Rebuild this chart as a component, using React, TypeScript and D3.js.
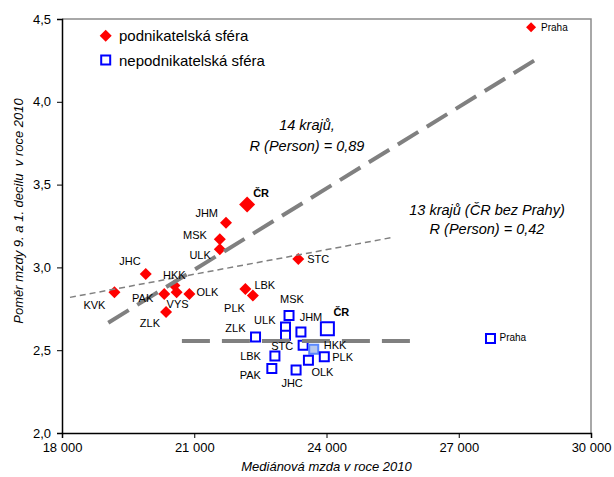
import { useEffect, useRef } from "react";
import * as d3 from "d3";

// podnikatelská sféra (red diamonds)
const podnikRegions = ["Praha", "ČR", "JHM", "MSK", "ULK", "JHC", "KVK", "HKK", "PAK", "VYS", "OLK", "ZLK", "LBK", "PLK", "STC"];
const podnikWage = [28640, 22200, 21720, 21580, 21580, 19900, 19190, 20550, 20320, 20600, 20890, 20360, 22160, 22330, 23360];
const podnikRatio = [4.45, 3.38, 3.27, 3.17, 3.11, 2.96, 2.85, 2.89, 2.84, 2.85, 2.84, 2.73, 2.87, 2.83, 3.05];

// nepodnikatelská sféra (blue squares)
const nepodnikRegions = ["Praha", "ČR", "ZLK", "MSK", "ULK", "KVK", "JHM", "STC", "HKK", "PLK", "OLK", "JHC", "LBK", "PAK"];
const nepodnikWage = [27720, 24020, 22390, 23150, 23070, 23070, 23420, 23470, 23710, 23950, 23590, 23310, 22830, 22760];
const nepodnikRatio = [2.57, 2.63, 2.58, 2.71, 2.64, 2.59, 2.61, 2.53, 2.505, 2.46, 2.44, 2.38, 2.465, 2.39];

// trend lines [x1, y1, x2, y2]
const trend14 = [19050, 2.666, 28840, 4.27];
const trend13 = [18180, 2.819, 25515, 3.182];
const trendNepodnik = [20720, 2.555, 26140, 2.555];

const xTicks = [18000, 21000, 24000, 27000, 30000];
const yTicks = [2.0, 2.5, 3.0, 3.5, 4.0, 4.5];

// label placement: [dx, dy, anchor]
const podnikLabelPos: Record<string, [number, number, string]> = {
  Praha: [10, 4, "start"],
  "ČR": [6, -7, "start"],
  JHM: [-8, -5.5, "end"],
  MSK: [-13, 0, "end"],
  ULK: [-9, 10, "end"],
  JHC: [-5, -9, "end"],
  KVK: [-9, 17, "end"],
  HKK: [0, -7, "middle"],
  PAK: [-11, 8, "end"],
  VYS: [1, 16, "middle"],
  OLK: [7, 2, "start"],
  ZLK: [-6, 15, "end"],
  LBK: [9, 0, "start"],
  PLK: [-8, 16, "end"],
  STC: [9, 4, "start"],
};
const nepodnikLabelPos: Record<string, [number, number, string]> = {
  Praha: [9, 2, "start"],
  "ČR": [6, -13, "start"],
  ZLK: [-10, -5, "end"],
  MSK: [3, -12, "middle"],
  ULK: [-10, -3, "end"],
  JHM: [10, -11, "middle"],
  STC: [-10, 5, "end"],
  HKK: [10, 0, "start"],
  PLK: [8, 4, "start"],
  OLK: [3, 16, "start"],
  JHC: [-4, 17, "middle"],
  LBK: [-14, 4, "end"],
  PAK: [-11, 11, "end"],
};

const FONT = "'Liberation Sans', Arial, sans-serif";

export default function App() {
  const svgRef = useRef<SVGSVGElement>(null);

  useEffect(() => {
    if (!svgRef.current) return;
    const svg = d3.select(svgRef.current);
    svg.selectAll("*").remove();

    const plot = { left: 62, right: 591, top: 19, bottom: 433 };
    const x = d3.scaleLinear().domain([18000, 30000]).range([plot.left, plot.right]);
    const y = d3.scaleLinear().domain([2.0, 4.5]).range([plot.bottom, plot.top]);

    // frame: gray top/right
    svg.append("path")
      .attr("d", `M${plot.left},${plot.top}H${plot.right}V${plot.bottom}`)
      .attr("fill", "none")
      .attr("stroke", "#8c8c8c")
      .attr("stroke-width", 1.5);

    const yAxis = svg.append("g")
      .attr("transform", `translate(${plot.left},0)`)
      .call(
        d3.axisLeft(y)
          .tickValues(yTicks)
          .tickSize(5)
          .tickPadding(6)
          .tickFormat((d) => (d as number).toFixed(1).replace(".", ","))
      );
    const xAxis = svg.append("g")
      .attr("transform", `translate(0,${plot.bottom})`)
      .call(
        d3.axisBottom(x)
          .tickValues(xTicks)
          .tickSize(5)
          .tickPadding(5)
          .tickFormat((d) => d3.format(",")(d as number).replace(",", " "))
      );
    [xAxis, yAxis].forEach((g) => {
      g.selectAll("text").style("font-family", FONT).style("font-size", "13px").attr("fill", "#000");
      g.selectAll("line").attr("stroke", "#000");
      g.select(".domain").attr("stroke", "#000").attr("stroke-width", 1.5);
    });

    // axis titles
    svg.append("text")
      .attr("x", (plot.left + plot.right) / 2)
      .attr("y", 471)
      .attr("text-anchor", "middle")
      .style("font-family", FONT)
      .style("font-size", "13px")
      .style("font-style", "italic")
      .text("Mediánová mzda v roce 2010");

    svg.append("text")
      .attr("transform", `translate(22.5,211) rotate(-90)`)
      .attr("text-anchor", "middle")
      .style("font-family", FONT)
      .style("font-size", "13px")
      .style("font-style", "italic")
      .style("white-space", "pre")
      .text("Poměr mzdy 9. a 1. decilu  v roce 2010");

    const square = (area: number) => d3.symbol().type(d3.symbolSquare).size(area)();

    // blue squares
    const nep = nepodnikRegions.map((name, i) => ({ name, wx: nepodnikWage[i], ry: nepodnikRatio[i] }));
    svg.append("g")
      .selectAll("path")
      .data(nep)
      .join("path")
      .attr("d", (d) => square(d.name === "ČR" ? 169 : 81))
      .attr("transform", (d) => `translate(${x(d.wx)},${y(d.ry)})`)
      .attr("fill", (d) => (d.name === "HKK" ? "#b7c8ee" : "#fff"))
      .attr("stroke", (d) => (d.name === "HKK" ? "#5a88ff" : "#0000ff"))
      .attr("stroke-width", 2);

    // red diamonds
    const pod = podnikRegions.map((name, i) => ({ name, wx: podnikWage[i], ry: podnikRatio[i] }));
    svg.append("g")
      .selectAll("path")
      .data(pod)
      .join("path")
      .attr("d", (d) => square(d.name === "ČR" ? 128 : d.name === "Praha" ? 50 : 72))
      .attr("transform", (d) => `translate(${x(d.wx)},${y(d.ry)}) rotate(45)`)
      .attr("fill", "#ff0000");

    // trend lines
    const drawLine = (t: number[], width: number, dash: string) =>
      svg.append("line")
        .attr("x1", x(t[0])).attr("y1", y(t[1]))
        .attr("x2", x(t[2])).attr("y2", y(t[3]))
        .attr("stroke", "#808080")
        .attr("stroke-width", width)
        .attr("stroke-dasharray", dash);
    drawLine(trend13, 1.5, "6,4");
    drawLine(trend14, 4, "24,10");
    drawLine(trendNepodnik, 4, "28,12");

    // data labels
    const label = (rows: { name: string; wx: number; ry: number }[], pos: Record<string, [number, number, string]>) => {
      rows.forEach((d) => {
        const p = pos[d.name];
        if (!p) return;
        svg.append("text")
          .attr("x", x(d.wx) + p[0])
          .attr("y", y(d.ry) + p[1])
          .attr("text-anchor", p[2])
          .style("font-family", FONT)
          .style("font-size", d.name === "Praha" ? "10px" : "11px")
          .style("font-weight", d.name === "ČR" ? "bold" : "normal")
          .attr("fill", "#000")
          .text(d.name);
      });
    };
    label(pod, podnikLabelPos);
    label(nep, nepodnikLabelPos);

    // annotations
    const note = (tx: number, ty: number, s: string) =>
      svg.append("text")
        .attr("x", tx).attr("y", ty)
        .attr("text-anchor", "middle")
        .style("font-family", FONT)
        .style("font-size", "14.5px")
        .style("font-style", "italic")
        .text(s);
    note(307, 130, "14 krajů,");
    note(307, 151, "R (Person) = 0,89");
    note(487, 215, "13 krajů (ČR bez Prahy)");
    note(487, 234, "R (Person) = 0,42");

    // legend
    svg.append("path")
      .attr("d", square(72))
      .attr("transform", "translate(105.7,35.7) rotate(45)")
      .attr("fill", "#ff0000");
    svg.append("path")
      .attr("d", square(81))
      .attr("transform", "translate(105.7,60)")
      .attr("fill", "#fff")
      .attr("stroke", "#0000ff")
      .attr("stroke-width", 2);
    [["podnikatelská sféra", 41], ["nepodnikatelská sféra", 65.5]].forEach(([s, ty]) =>
      svg.append("text")
        .attr("x", 119)
        .attr("y", ty as number)
        .style("font-family", FONT)
        .style("font-size", "15px")
        .text(s as string)
    );
  }, []);

  return (
    <svg
      ref={svgRef}
      width={614}
      height={477}
      style={{ position: "absolute", left: 0, top: 0, background: "#fff" }}
    />
  );
}
